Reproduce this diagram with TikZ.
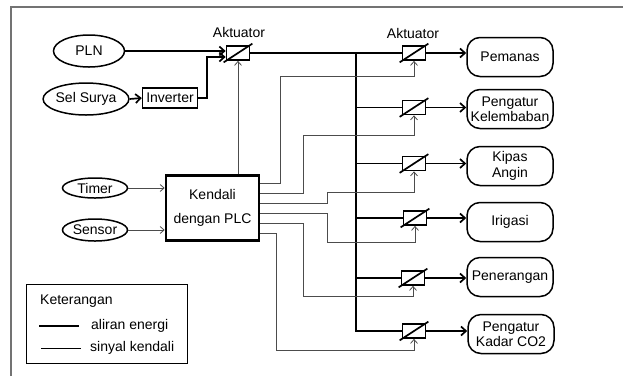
\documentclass[tikz,border=0pt]{standalone}
\usepackage{fontspec}
\setmainfont{Liberation Sans}
\usetikzlibrary{arrows.meta,shapes.geometric}
\begin{document}
\begin{tikzpicture}[x=1pt,y=-1pt,
  every node/.style={font=\fontsize{14}{15.5}\selectfont, inner sep=0pt, align=center},
  energy/.style={line width=1.7pt, black},
  ctrl/.style={line width=0.8pt, black!70},
  earrow/.style={-{Straight Barb[length=5pt,width=9pt]}},
  carrow/.style={-{Straight Barb[length=4pt,width=7pt]}},
  src/.style={ellipse, draw, line width=1.5pt},
  actbox/.style={rectangle, draw, line width=1.7pt, minimum width=23pt, minimum height=14pt},
  outbox/.style={rectangle, draw, line width=1.5pt, rounded corners=13pt, minimum width=86pt, minimum height=39pt},
  frameline/.style={line width=1.5pt, black!55}]
\useasboundingbox (0,0) rectangle (623,376);
% frame
\draw[frameline] (11,376) -- (11,7) -- (623,7);

% sources
\node[src, minimum width=71pt, minimum height=32pt] (pln) at (89,51) {PLN};
\node[src, minimum width=73pt, minimum height=32pt] (sel) at (86,99) {Sel Surya};
\node[draw, line width=1.5pt, minimum width=55pt, minimum height=20pt] (inv) at (170,98) {Inverter};
\node[src, minimum width=65pt, minimum height=20pt] (timer) at (95,188) {Timer};
\node[src, minimum width=65pt, minimum height=22pt] (sensor) at (95,230) {Sensor};

% controller
\node[draw, line width=2.6pt, minimum width=93pt, minimum height=65pt] (k) at (212.5,208) {Kendali\\[8pt]dengan PLC};

% actuators
\node[actbox] (a0) at (238,53) {};
\node[actbox] (a1) at (414,53) {};
\node[actbox] (a2) at (414,107.5) {};
\node[actbox] (a3) at (414,163.5) {};
\node[actbox] (a4) at (415,218) {};
\node[actbox] (a5) at (413,278) {};
\node[actbox] (a6) at (414,331) {};
\foreach \a in {a0,a1,a2,a3,a4,a5,a6}{
  \draw[line width=1.7pt] ([shift={(-2pt,-1.5pt)}]\a.south west) -- ([shift={(2pt,1.5pt)}]\a.north east);
}
\node (lab0) at (239,32) {Aktuator};
\node (lab1) at (413,33) {Aktuator};

% outputs
\node[outbox] (o1) at (510,57) {Pemanas};
\node[outbox] (o2) at (510,109) {Pengatur\\Kelembaban};
\node[outbox] (o3) at (510,166) {Kipas\\Angin};
\node[outbox] (o4) at (510,222) {Irigasi};
\node[outbox] (o5) at (510,277) {Penerangan};
\node[outbox] (o6) at (511,334) {Pengatur\\Kadar CO2};

% energy flow
\draw[energy,earrow] (pln.east) -- (pln.east -| a0.west);
\draw[energy,earrow] (sel.east) -- (inv.west);
\coordinate (j) at (207,57);
\draw[energy,earrow] (inv.east) -| (j) -- (j -| a0.west);
\draw[energy] (a0.east) -- (a1.west);
\coordinate (bt) at (356,53);
\draw[energy] (bt) |- (a6.west);
\foreach \a in {a2,a3,a4,a5}{
  \draw[energy] (bt |- \a.west) -- (\a.west);
}
\foreach \a/\o in {a1/o1,a2/o2,a3/o3,a4/o4,a5/o5,a6/o6}{
  \draw[energy,earrow] (\a.east) -- (\a.east -| \o.west);
}

% control signals
\draw[ctrl,carrow] (timer.east) -- (timer.east -| k.west);
\draw[ctrl,carrow] (sensor.east) -- (sensor.east -| k.west);
\draw[ctrl,carrow] (k.north -| a0.south) -- (a0.south);
\draw[ctrl,carrow] ([yshift=25pt]k.east) -| (280,76) -| (a1.south);
\draw[ctrl,carrow] ([yshift=15pt]k.east) -| (303,135) -| (a2.south);
\draw[ctrl,carrow] ([yshift=5pt]k.east) -| (327,192) -| (a3.south);
\draw[ctrl,carrow] ([yshift=-5pt]k.east) -| (327,242) -| (a4.south);
\draw[ctrl,carrow] ([yshift=-15pt]k.east) -| (303,296) -| (a5.south);
\draw[ctrl,carrow] ([yshift=-25pt]k.east) -| (276,350) -| (a6.south);

% legend
\node[draw, line width=0.9pt, minimum width=161pt, minimum height=79pt] (leg) at (106.5,323.5) {};
\node[anchor=west] (lt) at (40,301) {Keterangan};
\draw[line width=1.7pt] (39,326) -- (79,326);
\node[anchor=west] (le) at (91,326) {aliran energi};
\draw[line width=0.8pt] (41,348) -- (81,348);
\node[anchor=west] (ls) at (90,348) {sinyal kendali};
\end{tikzpicture}
\end{document}
